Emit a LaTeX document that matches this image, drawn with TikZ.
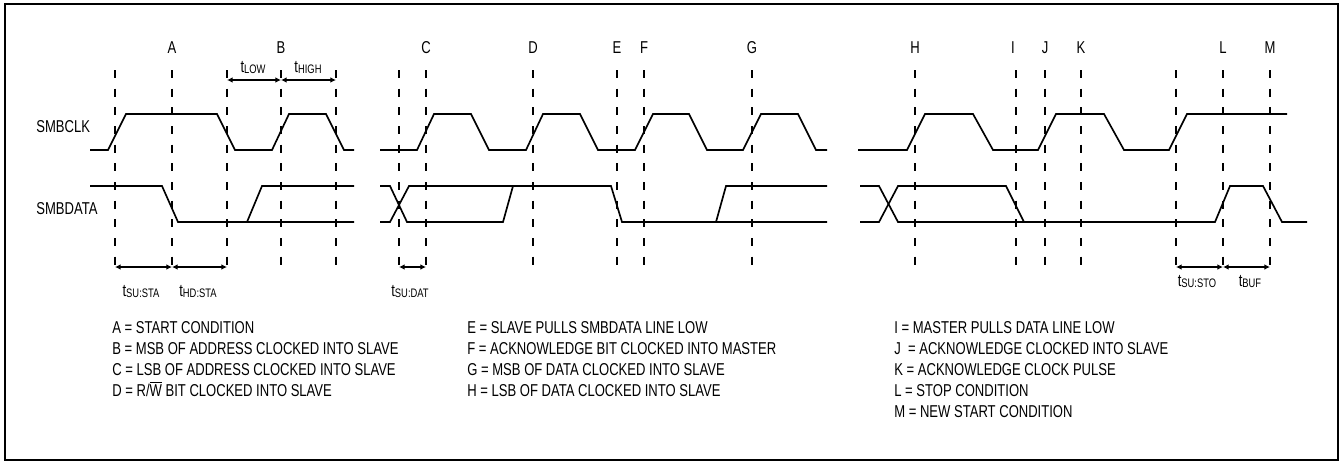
\documentclass[tikz,border=0pt]{standalone}
\usepackage{fontspec}
\setmainfont{Liberation Sans}[FakeStretch=0.76]
\usetikzlibrary{arrows.meta}

\newcommand{\tsub}[1]{t{\fontsize{7.4}{8}\selectfont\raisebox{-0.4pt}{#1}}}

\begin{document}
\begin{tikzpicture}[x=0.6pt, y=-0.6pt, >={Latex[length=3.4pt,width=3.4pt]},
	every node/.style={inner sep=0pt, font=\fontsize{10.3}{12}\selectfont},
	wave/.style={line width=1pt, line join=miter},
	marker/.style={line width=1pt, dash pattern=on 4.8pt off 6.4pt},
	span/.style={<->, line width=0.8pt}]
	
	\useasboundingbox (0,0) rectangle (1340,462);
	\draw [line width=1.2pt] (5,4) rectangle (1338,460);
	
	% dashed time markers
	\foreach \x [count=\i] in {115,172,227,281,336,399,426,533,617,644,752,915,1016,1045,1081,1176,1223,1270}
	{
	\coordinate (top-\i) at (\x,70);
	\coordinate (foot-\i) at (\x,270);
	\coordinate (up-\i) at (\x,80);
	\coordinate (low-\i) at (\x,267);
	\draw [marker] (top-\i) -- (foot-\i);
	}
	
	\foreach \x/\l in {172/A,281/B,426/C,533/D,617/E,644/F,752/G,915/H,1013/I,1045/J,1081/K,1223/L,1270/M}
	\node [anchor=base] (letter-\l) at (\x,53.5) {\l};
	
	% signal names
	\node [anchor=base west] (clk) at (36,132.5) {SMBCLK};
	\node [anchor=base west] (dat) at (36,214.5) {SMBDATA};
	
	% SMBCLK
	\draw [wave] (90,150) -- (108,150) -- (126,114) -- (217,114) -- (235,150) -- (272,150) -- (289,114) -- (326,114) -- (344,150) -- (354,150);
	\draw [wave] (380,150) -- (417,150) -- (434,114) -- (471,114) -- (489,150) -- (526,150) -- (543,114) -- (580,114) -- (598,150) -- (635,150) -- (653,114) -- (689,114) -- (707,150) -- (743,150) -- (761,114) -- (798,114) -- (816,150) -- (827,150);
	\draw [wave] (858,150) -- (907,150) -- (925,114) -- (973,114) -- (993,150) -- (1038,150) -- (1056,114) -- (1104,114) -- (1124,150) -- (1169,150) -- (1187,114) -- (1287,114);
	
	% SMBDATA
	\draw [wave] (90,186) -- (162,186) -- (178,222) -- (354,222);
	\draw [wave] (247,222) -- (262,186) -- (354,186);
	\draw [wave] (380,186) -- (390,186) -- (407,222) -- (503,222) -- (513,186) -- (611,186) -- (622,222) -- (827,222);
	\draw [wave] (380,222) -- (390,222) -- (409,186) -- (513,186);
	\draw [wave] (716,222) -- (726,186) -- (827,186);
	\draw [wave] (860,186) -- (879,186) -- (898,222) -- (1215,222) -- (1230,186) -- (1263,186) -- (1282,222) -- (1307,222);
	\draw [wave] (860,222) -- (879,222) -- (898,186) -- (1006,186) -- (1024,222);
	
	% timing spans
	\draw [span] (up-3) -- (up-4);
	\draw [span] (up-4) -- (up-5);
	\draw [span] (low-1) -- (low-2);
	\draw [span] (low-2) -- (low-3);
	\draw [span] (low-6) -- (low-7);
	\draw [span] (low-16) -- (low-17);
	\draw [span] (low-17) -- (low-18);
	
	\node [anchor=base] (t-low) at (253,72.5) {\tsub{LOW}};
	\node [anchor=base] (t-high) at (308,72.5) {\tsub{HIGH}};
	\node [anchor=base] (t-susta) at (141,296.5) {\tsub{SU:STA}};
	\node [anchor=base] (t-hdsta) at (198,296.5) {\tsub{HD:STA}};
	\node [anchor=base] (t-sudat) at (410,296.5) {\tsub{SU:DAT}};
	\node [anchor=base] (t-susto) at (1197,286.5) {\tsub{SU:STO}};
	\node [anchor=base] (t-buf) at (1250,286.5) {\tsub{BUF}};
	
	% legend
	\foreach \l [count=\y] in {A = START CONDITION, B = MSB OF ADDRESS CLOCKED INTO SLAVE, C = LSB OF ADDRESS CLOCKED INTO SLAVE, D = R/$\overline{\mbox{W}}$ BIT CLOCKED INTO SLAVE}
	\node [anchor=base west] (note-a\y) at (112,312+21*\y) {\l};
	
	\foreach \l [count=\y] in {E = SLAVE PULLS SMBDATA LINE LOW, F = ACKNOWLEDGE BIT CLOCKED INTO MASTER, G = MSB OF DATA CLOCKED INTO SLAVE, H = LSB OF DATA CLOCKED INTO SLAVE}
	\node [anchor=base west] (note-b\y) at (467,312+21*\y) {\l};
	
	\foreach \l [count=\y] in {I = MASTER PULLS DATA LINE LOW, J\ \ = ACKNOWLEDGE CLOCKED INTO SLAVE, K = ACKNOWLEDGE CLOCK PULSE, L = STOP CONDITION, M = NEW START CONDITION}
	\node [anchor=base west] (note-c\y) at (894,312+21*\y) {\l};
\end{tikzpicture}
\end{document}
